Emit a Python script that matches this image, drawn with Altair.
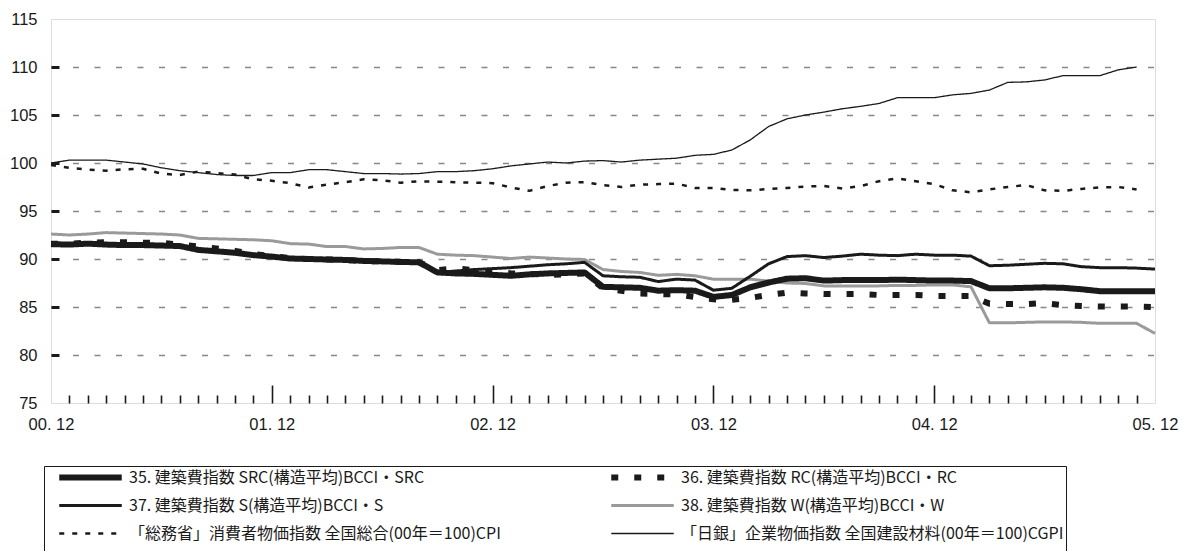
import altair as alt
import pandas as pd

# month index 0 = 2000-12 ... 60 = 2005-12
tick_months = [0, 12, 24, 36, 48, 60]
tick_labels = ["00. 12", "01. 12", "02. 12", "03. 12", "04. 12", "05. 12"]
y_ticks = [75, 80, 85, 90, 95, 100, 105, 110, 115]

SRC = "35. 建築費指数 SRC(構造平均)BCCI・SRC"
RC = "36. 建築費指数 RC(構造平均)BCCI・RC"
S = "37. 建築費指数 S(構造平均)BCCI・S"
WW = "38. 建築費指数 W(構造平均)BCCI・W"
CPI = "「総務省」消費者物価指数 全国総合(00年＝100)CPI"
CGPI = "「日銀」企業物価指数 全国建設材料(00年＝100)CGPI"

src = [91.55, 91.5, 91.6, 91.5, 91.45, 91.45, 91.4, 91.35, 90.95, 90.8,
       90.65, 90.4, 90.25, 90.05, 90.0, 89.95, 89.9, 89.8, 89.75, 89.7,
       89.65, 88.6, 88.5, 88.45, 88.35, 88.25, 88.4, 88.5, 88.55, 88.6,
       87.1, 87.05, 87.0, 86.7, 86.75, 86.7, 86.05, 86.25, 87.05, 87.55,
       87.95, 88.0, 87.75, 87.8, 87.8, 87.8, 87.85, 87.8, 87.75, 87.75,
       87.7, 86.95, 86.95, 87.0, 87.05, 87.0, 86.85, 86.65, 86.65, 86.65,
       86.65]
rc = [91.6, 91.6, 91.7, 91.75, 91.75, 91.7, 91.7, 91.5, 91.3, 91.1,
      90.85, 90.5, 90.3, 90.1, 90.0, 89.95, 89.9, 89.8, 89.75, 89.7,
      89.65, 88.85, 89.0, 88.85, 88.7, 88.5, 88.45, 88.35, 88.4, 88.5,
      86.95, 86.7, 86.4, 86.35, 86.3, 86.05, 85.8, 85.75, 85.95, 86.25,
      86.5, 86.4, 86.35, 86.35, 86.35, 86.25, 86.25, 86.25, 86.15, 86.15,
      86.15, 85.35, 85.3, 85.3, 85.4, 85.2, 85.1, 85.05, 85.05, 85.05,
      85.0]
s = [91.5, 91.45, 91.55, 91.45, 91.4, 91.4, 91.35, 91.3, 90.9, 90.75,
     90.6, 90.35, 90.2, 90.0, 89.95, 89.9, 89.85, 89.75, 89.7, 89.65,
     89.6, 88.6, 88.75, 88.9, 89.0, 89.1, 89.25, 89.4, 89.5, 89.65,
     88.25, 88.15, 88.1, 87.65, 87.9, 87.8, 86.75, 86.95, 88.2, 89.5,
     90.25, 90.35, 90.15, 90.3, 90.5, 90.4, 90.35, 90.5, 90.4, 90.4,
     90.3, 89.3, 89.35, 89.45, 89.55, 89.5, 89.2, 89.1, 89.1, 89.05,
     88.95]
w = [92.6, 92.5, 92.6, 92.75, 92.7, 92.65, 92.6, 92.5, 92.15, 92.1,
     92.05, 92.0, 91.9, 91.6, 91.55, 91.3, 91.3, 91.05, 91.1, 91.2,
     91.2, 90.5, 90.4, 90.35, 90.2, 90.05, 90.2, 90.1, 90.0, 89.95,
     88.9, 88.7, 88.6, 88.3, 88.4, 88.25, 87.9, 87.9, 87.9, 87.7,
     87.5, 87.45, 87.2, 87.2, 87.2, 87.2, 87.25, 87.25, 87.3, 87.3,
     87.1, 83.35, 83.35, 83.4, 83.45, 83.45, 83.4, 83.3, 83.3, 83.3,
     82.25]
cpi = [99.8, 99.5, 99.3, 99.2, 99.35, 99.4, 98.9, 98.75, 99.1, 98.95,
       98.8, 98.3, 98.15, 97.9, 97.45, 97.75, 98.0, 98.3, 98.2, 97.95,
       98.1, 98.05, 98.0, 97.95, 97.9, 97.45, 97.1, 97.6, 97.95, 98.0,
       97.7, 97.5, 97.75, 97.8, 97.85, 97.4, 97.4, 97.2, 97.15, 97.3,
       97.4, 97.55, 97.6, 97.35, 97.6, 98.1, 98.4, 98.1, 97.8, 97.15,
       96.95, 97.25, 97.5, 97.7, 97.15, 97.1, 97.3, 97.45, 97.5, 97.25]
cgpi = [100.0, 100.3, 100.3, 100.3, 100.1, 99.9, 99.5, 99.2, 99.0, 98.8,
        98.7, 98.7, 99.0, 99.0, 99.3, 99.3, 99.1, 98.9, 98.9, 98.85,
        98.9, 99.1, 99.1, 99.2, 99.4, 99.7, 99.9, 100.1, 100.0, 100.2,
        100.25, 100.1, 100.3, 100.4, 100.5, 100.8, 100.9, 101.35, 102.4, 103.8,
        104.6, 105.0, 105.3, 105.65, 105.9, 106.2, 106.8, 106.8, 106.8, 107.1,
        107.25, 107.6, 108.4, 108.45, 108.65, 109.1, 109.1, 109.1, 109.7, 110.0]

series_values = {SRC: src, RC: rc, S: s, WW: w, CPI: cpi, CGPI: cgpi}
style_color = {SRC: "#1a1a1a", RC: "#1a1a1a", S: "#1a1a1a", WW: "#9a9a9a", CPI: "#1a1a1a", CGPI: "#1a1a1a"}
style_width = {SRC: 6, RC: 6, S: 3, WW: 3, CPI: 2.5, CGPI: 1.3}
style_dash = {SRC: [1, 0], RC: [7, 16], S: [1, 0], WW: [1, 0], CPI: [5, 8], CGPI: [1, 0]}

# legend order (column-major): left column SRC, S, CPI; right column RC, W, CGPI
legend_order = [SRC, S, CPI, RC, WW, CGPI]
keys = list(range(len(legend_order)))
# drawing order (bottom to top)
draw_order = [WW, CGPI, CPI, S, SRC, RC]

rows = []
for name, vals in series_values.items():
    k = legend_order.index(name)
    for i, v in enumerate(vals):
        rows.append({"m": i, "v": v, "k": k})
df = pd.DataFrame(rows)

W, H = 1104, 384
AXIS_FONT = "Liberation Sans"
LEG_FONT = "Noto Sans CJK JP"

xscale = alt.Scale(domain=[0, 60], nice=False, zero=False)
yscale = alt.Scale(domain=[75, 115], nice=False, zero=False)

names_js = "[" + ",".join("'%s'" % n for n in legend_order) + "]"

legend = alt.Legend(
    title="\u3000", titleOrient="bottom", titleFont=LEG_FONT, titleFontSize=16,
    titlePadding=12,
    orient="none", legendX=-7, legendY=447, columns=2, columnPadding=97,
    rowPadding=9, clipHeight=19, symbolType="M-1,0H9", symbolSize=156.25, symbolOffset=10,
    padding=2, labelFont=LEG_FONT, labelFontSize=16, labelColor="#1a1a1a",
    labelLimit=700, labelOffset=54, labelExpr=names_js + "[datum.value]",
    strokeColor="#1a1a1a", fillColor="white", symbolFillColor="transparent",
)
color = alt.Color("k:N", scale=alt.Scale(domain=keys, range=[style_color[n] for n in legend_order]), legend=legend)
sd = alt.StrokeDash("k:N", scale=alt.Scale(domain=keys, range=[style_dash[n] for n in legend_order]), legend=legend)
sw = alt.StrokeWidth("k:Q", scale=alt.Scale(type="linear", domain=keys, range=[style_width[n] for n in legend_order],
                                            zero=False, nice=False), legend=legend)

label_expr = "[" + ",".join("'%s'" % t for t in tick_labels) + "][round(datum.value/12)]"

x_bottom = alt.Axis(orient="bottom", values=tick_months, labelExpr=label_expr, ticks=False,
                    domain=False, grid=False, labelFont=AXIS_FONT, labelFontSize=16.5,
                    labelPadding=13, labelColor="#1a1a1a", labelFlush=False, title=None)
y_left = alt.Axis(orient="left", values=y_ticks, ticks=False, domain=False, grid=True,
                  gridDash=[6, 15.5], gridColor="#888888", gridWidth=1.5,
                  gridOpacity={"condition": {"test": "datum.value == 75 || datum.value == 115", "value": 0}, "value": 1},
                  labelFont=AXIS_FONT, labelFontSize=16.5, labelPadding=14,
                  labelColor="#1a1a1a", title=None)
x_ticks = alt.Axis(orient="top", offset=-H, values=list(range(1, 60)), labels=False,
                   domain=False, grid=False,
                   tickSize={"condition": {"test": "datum.value % 12 == 0", "value": 18}, "value": 8},
                   tickWidth=1.6, tickColor="#1a1a1a", title=None)
y_ticks_ax = alt.Axis(orient="right", offset=-W, values=y_ticks[1:-1], labels=False,
                      domain=False, grid=False, tickSize=8, tickWidth=3,
                      tickColor="#1a1a1a", title=None)


def layer(name, xaxis=None, yaxis=None):
    k = legend_order.index(name)
    return alt.Chart(df).transform_filter(alt.datum.k == k).mark_line(
        strokeCap="butt", strokeJoin="round"
    ).encode(
        x=alt.X("m:Q", scale=xscale, axis=xaxis),
        y=alt.Y("v:Q", scale=yscale, axis=yaxis),
        color=color, strokeDash=sd, strokeWidth=sw,
    )


layers = [layer(draw_order[0], x_bottom, y_left), layer(draw_order[1], x_ticks, y_ticks_ax)]
layers += [layer(n) for n in draw_order[2:]]

chart = alt.layer(*layers).resolve_axis(x="independent", y="independent").properties(
    width=W, height=H,
    autosize=alt.AutoSizeParams(type="none"),
    padding={"left": 43, "top": 11, "right": 27, "bottom": 148},
).configure_view(stroke="#1a1a1a", strokeWidth=2).configure(background="white")

chart.save("out.html", embed_options={"renderer": "svg", "actions": False})
